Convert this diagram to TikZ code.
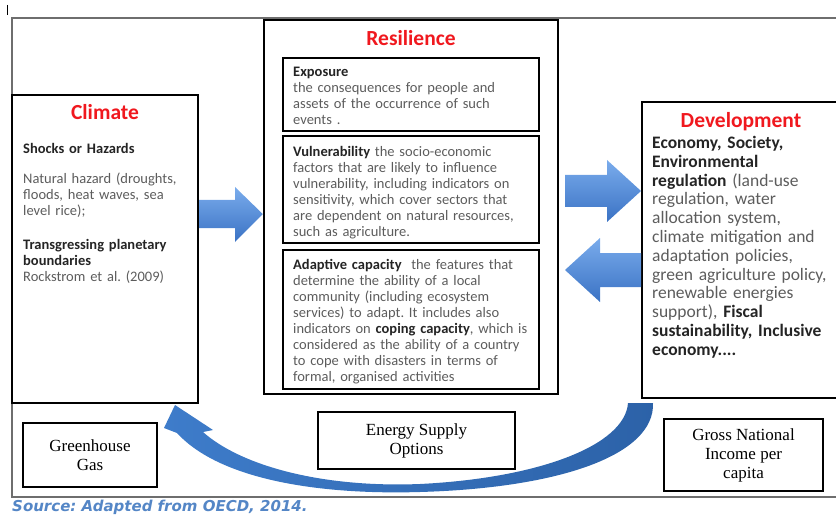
\documentclass[tikz,border=0pt]{standalone}
\usepackage{fontspec}
\setmainfont{Carlito}
\newfontfamily\boxserif{Liberation Serif}
\newfontfamily\sourcefont{DejaVu Sans}
\frenchspacing

\definecolor{titlered}{RGB}{240,24,30}
\definecolor{txtgray}{RGB}{92,92,92}
\definecolor{txtdark}{RGB}{36,36,36}
\definecolor{framegray}{RGB}{110,110,110}
\definecolor{arrowlight}{RGB}{122,172,236}
\definecolor{arrowdark}{RGB}{58,114,196}
\definecolor{curveleft}{RGB}{62,124,202}
\definecolor{curvemid}{RGB}{108,154,216}
\definecolor{curveright}{RGB}{44,98,168}
\definecolor{sourceblue}{RGB}{84,134,198}

\newcommand{\kw}[1]{\textcolor{txtdark}{\textbf{#1}}}

\begin{document}
\begin{tikzpicture}[x=1pt, y=-1pt,
        mainbox/.style={draw=black, line width=2pt, inner sep=0pt},
        smallbox/.style={draw=black, line width=1.1pt, inner sep=0pt, align=center,
            font=\boxserif\fontsize{17}{19}\selectfont},
        title/.style={inner sep=0pt, text=titlered, font=\fontsize{21.5}{24}\selectfont\bfseries},
        bodytext/.style={anchor=north west, inner sep=0pt, align=left, text width=300pt,
            text=txtgray, font=\fontsize{14.5}{16}\selectfont},
        devtext/.style={bodytext, font=\fontsize{17.5}{18.8}\selectfont},
        blockarrow/.style={top color=arrowlight, bottom color=arrowdark}
    ]
        \useasboundingbox (0,0) rectangle (836,516);

        % --- outer frame and cursor mark ---
        \draw[framegray, line width=1.5pt] (12,18) rectangle (842,497);
        \draw[line width=0.8pt] (7,5) -- (7,15);

        % --- Climate ---
        \node[mainbox, minimum width=186pt, minimum height=308pt] (climate) at (105,249) {};
        \node[title] (climateTitle) at (105,112) {Climate};
        \node[bodytext] (climateText) at (23,143) {%
            \kw{Shocks or Hazards}\\[14pt]
            Natural hazard (droughts,\\
            floods, heat waves, sea\\
            level rice);\\[18pt]
            \kw{Transgressing planetary}\\
            \kw{boundaries}\\
            Rockstrom et al. (2009)};

        % --- Resilience ---
        \node[mainbox, line width=2.5pt, minimum width=294pt, minimum height=374pt] (resilience) at (411,207) {};
        \node[title] (resTitle) at (411,38) {Resilience};
        \node[mainbox, minimum width=256pt, minimum height=73pt] (exposure) at (411,94.5) {};
        \node[mainbox, minimum width=256pt, minimum height=107pt] (vulner) at (411,189.5) {};
        \node[mainbox, minimum width=256pt, minimum height=139pt] (adaptive) at (411,319.5) {};

        \node[bodytext] (exposureText) at (293,67) {%
            \kw{Exposure}\\
            the consequences for people and\\
            assets of the occurrence of such\\
            events .};
        \node[bodytext] (vulnerText) at (293,146) {%
            \kw{Vulnerability} the socio-economic\\
            factors that are likely to influence\\
            vulnerability, including indicators on\\
            sensitivity, which cover sectors that\\
            are dependent on natural resources,\\
            such as agriculture.};
        \node[bodytext] (adaptiveText) at (293,259) {%
            \kw{Adaptive capacity}~ the features that\\
            determine the ability of a local\\
            community (including ecosystem\\
            services) to adapt. It includes also\\
            indicators on \kw{coping capacity}, which is\\
            considered as the ability of a country\\
            to cope with disasters in terms of\\
            formal, organised activities};

        % --- Development ---
        \node[mainbox, minimum width=200pt, minimum height=296pt] (develop) at (742,250) {};
        \node[title] (devTitle) at (741,122) {Development};
        \node[devtext] (devText) at (652,136) {%
            \kw{Economy, Society,}\\
            \kw{Environmental}\\
            \kw{regulation} (land-use\\
            regulation, water\\
            allocation system,\\
            climate mitigation and\\
            adaptation policies,\\
            green agriculture policy,\\
            renewable energies\\
            support), \kw{Fiscal}\\
            \kw{sustainability, Inclusive}\\
            \kw{economy....}};

        % --- block arrows between the boxes ---
        \shade[blockarrow] (climate.east |- 0,200) -- (235,200) -- (235,187)
            -- (resilience.west |- 0,214) -- (235,242) -- (235,228) -- (climate.east |- 0,228) -- cycle;
        \shade[blockarrow] (565,175) -- (607,175) -- (607,160)
            -- (develop.west |- 0,191) -- (607,222) -- (607,207) -- (565,207) -- cycle;
        \shade[blockarrow] (develop.west |- 0,253) -- (600,253) -- (600,238)
            -- (565,270) -- (600,302) -- (600,287) -- (develop.west |- 0,287) -- cycle;

        % --- curved feedback arrow ---
        \shade[left color=curveleft, middle color=curvemid, right color=curveright]
            (628,403) .. controls (625,445) and (540,478) .. (420,484)
            .. controls (320,488) and (240,465) .. (203,432)
            -- (213,430) -- (175,405) -- (164,428) -- (177,433)
            .. controls (220,480) and (320,495) .. (420,492)
            .. controls (560,488) and (655,455) .. (653,403) -- cycle;

        % --- indicator boxes ---
        \node[smallbox, minimum width=134pt, minimum height=64pt] (ghg) at (90,455) {Greenhouse\\Gas};
        \node[smallbox, minimum width=197pt, minimum height=57pt] (energy) at (416.5,440.5) {Energy Supply\\Options};
        \node[smallbox, minimum width=159pt, minimum height=72pt] (gni) at (743.5,455) {Gross National\\Income per\\capita};

        % --- source line ---
        \node[anchor=west, inner sep=0pt, text=sourceblue,
            font=\sourcefont\fontsize{15}{18}\selectfont\bfseries\itshape] (source) at (12,507) {Source: Adapted from OECD, 2014.};
    \end{tikzpicture}
\end{document}
